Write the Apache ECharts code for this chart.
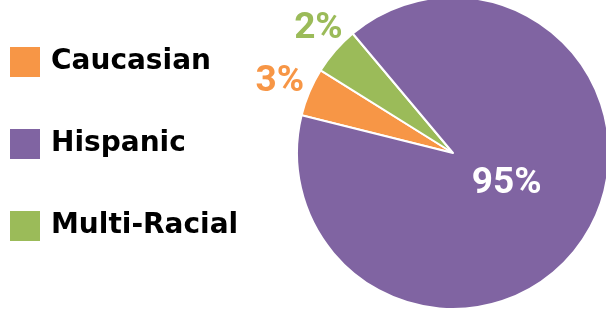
<!DOCTYPE html>
<html>
<head>
<meta charset="utf-8">
<script src="https://cdn.jsdelivr.net/npm/echarts@6/dist/echarts.min.js"></script>
<style>
  html, body { margin: 0; padding: 0; background: #fff; }
  #chart { width: 606px; height: 312px; }
</style>
</head>
<body>
<div id="chart"></div>
<script>
// legend order as shown on the left
var legendNames = ['Caucasian', 'Hispanic', 'Multi-Racial']
// pie order (clockwise from the start angle)
var categories = ['Caucasian', 'Multi-Racial', 'Hispanic']
var percents = [3, 2, 95]
var colors = ['#F79646', '#9BBB59', '#8064A2']
// nudges for the slice labels
var labelOffsets = [[9, -6], [20, -15], [-15, -12]]

var chart = echarts.init(document.getElementById('chart'), null, { renderer: 'canvas' })

var pieData = categories.map(function (name, i) {
  var inside = name === 'Hispanic'
  return {
    name: name,
    value: percents[i],
    itemStyle: { color: colors[i] },
    label: {
      position: inside ? 'inside' : 'outside',
      color: inside ? '#fff' : colors[i],
      fontFamily: 'Roboto',
      fontWeight: 'bold',
      fontSize: 37,
      offset: labelOffsets[i]
    }
  }
})

chart.setOption({
  animation: false,
  backgroundColor: '#fff',
  legend: {
    orient: 'vertical',
    left: 8,
    top: 45,
    padding: 0,
    data: legendNames,
    icon: 'rect',
    itemWidth: 32,
    itemHeight: 32,
    itemGap: 48,
    selectedMode: false,
    textStyle: {
      fontFamily: 'DejaVu Sans',
      fontWeight: 'bold',
      fontSize: 28,
      lineHeight: 32,
      color: '#000',
      padding: [0, 0, 0, 5]
    }
  },
  series: [{
    type: 'pie',
    center: [453, 153],
    radius: 156,
    startAngle: 166,
    minAngle: 18,
    avoidLabelOverlap: false,
    itemStyle: {
      borderColor: '#fff',
      borderWidth: 2
    },
    label: {
      formatter: '{c}%'
    },
    labelLine: {
      show: false,
      length: 10,
      length2: 0
    },
    data: pieData
  }]
})
</script>
</body>
</html>
